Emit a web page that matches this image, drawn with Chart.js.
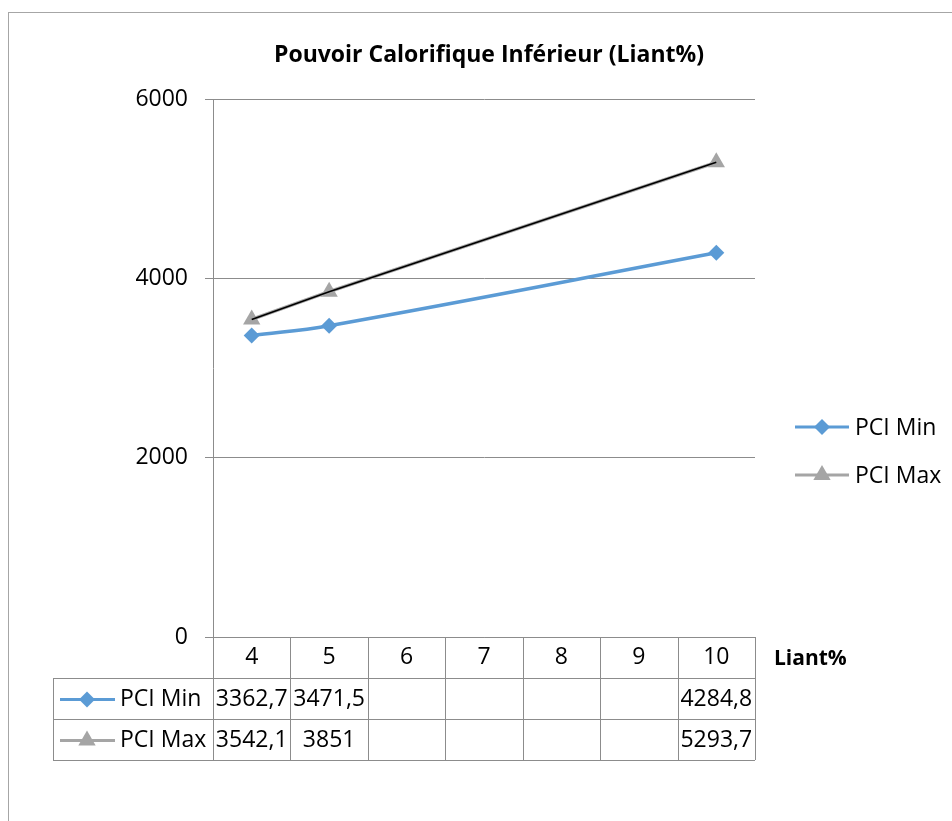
<!DOCTYPE html>
<html>
<head>
<meta charset="utf-8">
<script src="https://cdn.jsdelivr.net/npm/chart.js@4.4.1/dist/chart.umd.min.js"></script>
<style>
  html, body { margin: 0; padding: 0; background: #fff; }
  #wrap { width: 952px; height: 821px; }
</style>
</head>
<body>
<div id="wrap"><canvas id="myChart" width="952" height="821"></canvas></div>
<script>
const liant = ["4", "5", "6", "7", "8", "9", "10"];
const pciMin = [3362.7, 3471.5, null, null, null, null, 4284.8];
const pciMax = [3542.1, 3851, null, null, null, null, 5293.7];
const yTicks = [0, 2000, 4000, 6000];

const FONT = "'Open Sans', 'Noto Sans', sans-serif";
const GRID = "#8c8c8c";
const BLUE = "#5B9BD5";
const GREY = "#A5A5A5";

Chart.defaults.font.family = FONT;
Chart.defaults.color = "#000";

function fmt(v) {
  return v == null ? "" : String(v).replace(".", ",");
}

// frame, title, legend and data table
const decor = {
  id: "decor",
  beforeDraw(chart) {
    const ctx = chart.ctx;
    ctx.save();
    ctx.strokeStyle = "#a6a6a6";
    ctx.lineWidth = 1;
    ctx.strokeRect(8.5, 12.5, 1200, 1200);
    ctx.restore();
  },
  afterDraw(chart) {
    const ctx = chart.ctx;
    const x = chart.scales.x;
    const area = chart.chartArea;
    const series = chart.data.datasets.filter(d => !d.hidden && d.label);
    ctx.save();

    // title
    ctx.fillStyle = "#000";
    ctx.font = "bold 23px " + FONT;
    ctx.textAlign = "center";
    ctx.textBaseline = "middle";
    ctx.fillText("Pouvoir Calorifique Inférieur (Liant%)", 489, 55);

    // axis title
    ctx.font = "bold 21px " + FONT;
    ctx.textAlign = "left";
    ctx.fillText("Liant%", 774, 659);

    // legend
    const legendY = [427, 475];
    series.forEach((d, i) => {
      const y = legendY[i];
      ctx.strokeStyle = d.borderColor;
      ctx.lineWidth = 3;
      ctx.beginPath();
      ctx.moveTo(795, y);
      ctx.lineTo(849, y);
      ctx.stroke();
      ctx.fillStyle = d.pointBackgroundColor;
      Chart.helpers.drawPoint(ctx, { pointStyle: d.pointStyle, radius: d.pointRadius, borderWidth: 0, rotation: 0 }, 822, y);
      ctx.fillStyle = "#000";
      ctx.font = "23px " + FONT;
      ctx.textAlign = "left";
      ctx.fillText(d.label, 855, y + 1);
    });

    // data table
    const colW = (area.right - area.left) / liant.length;
    const rows = [637, 678, 719, 760];
    const tableLeft = 53;
    ctx.strokeStyle = GRID;
    ctx.lineWidth = 1;
    ctx.beginPath();
    for (let r = 1; r < rows.length; r++) {
      ctx.moveTo(tableLeft, rows[r] + 0.5);
      ctx.lineTo(area.right, rows[r] + 0.5);
    }
    ctx.moveTo(tableLeft + 0.5, rows[1]);
    ctx.lineTo(tableLeft + 0.5, rows[3]);
    for (let i = 0; i <= liant.length; i++) {
      const px = Math.round(area.left + i * colW) + 0.5;
      ctx.moveTo(px, rows[0]);
      ctx.lineTo(px, rows[3]);
    }
    ctx.stroke();

    series.forEach((d, r) => {
      const cy = (rows[r + 1] + rows[r + 2]) / 2 + 1;
      ctx.strokeStyle = d.borderColor;
      ctx.lineWidth = 3;
      ctx.beginPath();
      ctx.moveTo(60, cy);
      ctx.lineTo(115, cy);
      ctx.stroke();
      ctx.fillStyle = d.pointBackgroundColor;
      Chart.helpers.drawPoint(ctx, { pointStyle: d.pointStyle, radius: d.pointRadius, borderWidth: 0, rotation: 0 }, 87, cy);
      ctx.fillStyle = "#000";
      ctx.font = "23px " + FONT;
      ctx.textAlign = "left";
      ctx.textBaseline = "middle";
      ctx.fillText(d.label, 120, cy);
      ctx.textAlign = "center";
      d.data.forEach((v, i) => {
        ctx.fillText(fmt(v), x.getPixelForValue(i), cy);
      });
    });
    ctx.restore();
  }
};

new Chart(document.getElementById("myChart"), {
  type: "line",
  plugins: [decor],
  data: {
    labels: liant,
    datasets: [
      {
        label: "PCI Min",
        data: pciMin,
        borderColor: BLUE,
        backgroundColor: BLUE,
        pointBackgroundColor: BLUE,
        pointBorderColor: BLUE,
        borderWidth: 3.5,
        pointStyle: "rectRot",
        pointRadius: 8,
        pointBorderWidth: 0,
        tension: 0.4,
        spanGaps: true,
        order: 1
      },
      {
        label: "PCI Max",
        data: pciMax,
        borderColor: GREY,
        backgroundColor: GREY,
        pointBackgroundColor: GREY,
        pointBorderColor: GREY,
        borderWidth: 3.5,
        pointStyle: "triangle",
        pointRadius: 10,
        pointBorderWidth: 0,
        tension: 0,
        spanGaps: true,
        order: 2
      },
      {
        label: "",
        data: pciMax,
        borderColor: "#000",
        borderWidth: 1.6,
        pointRadius: 0,
        tension: 0,
        spanGaps: true,
        order: -1
      }
    ]
  },
  options: {
    responsive: false,
    animation: false,
    maintainAspectRatio: false,
    layout: { padding: { top: 99, right: 197, bottom: 0, left: 0 } },
    plugins: {
      legend: { display: false },
      title: { display: false },
      tooltip: { enabled: false }
    },
    scales: {
      x: {
        offset: true,
        grid: { display: false, drawTicks: false },
        border: { display: true, color: GRID, width: 1 },
        ticks: { font: { size: 23 }, padding: 7, color: "#000", maxRotation: 0 },
        afterFit(scale) { scale.height = 184; }
      },
      y: {
        min: 0,
        max: 6000,
        afterBuildTicks(scale) { scale.ticks = yTicks.map(v => ({ value: v })); },
        grid: { color: GRID, tickLength: 8, drawTicks: true },
        border: { display: true, color: GRID, width: 1 },
        ticks: { font: { size: 23 }, padding: 17, color: "#000", callback: v => String(v) },
        afterFit(scale) { scale.width = 213; }
      }
    }
  }
});
</script>
</body>
</html>
